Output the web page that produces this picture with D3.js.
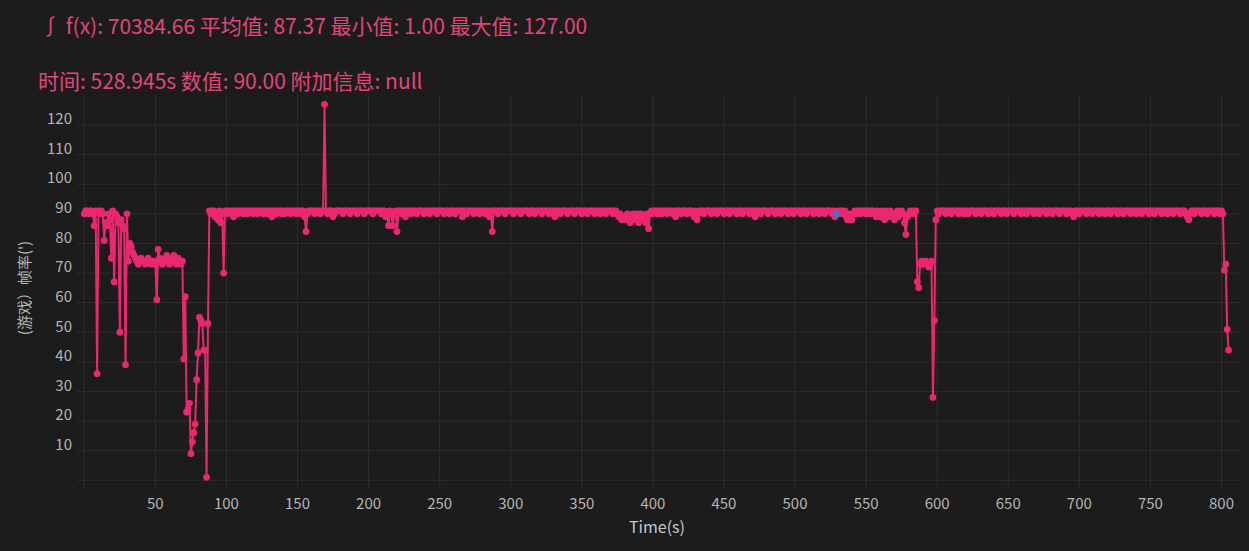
<!DOCTYPE html>
<html><head><meta charset="utf-8">
<script src="https://cdn.jsdelivr.net/npm/d3@7"></script>
<style>html,body{margin:0;padding:0;background:#1c1c1c;} svg{display:block}</style>
</head><body><svg id="c" width="1249" height="551"></svg>
<script>
// sampling interval of the frame-rate trace (seconds)
const sampleInterval = 1;
// (游戏) 帧率 per sample
const fpsValues = [
90,91,91,90,91,91,90,86,91,36,91,90,91,90,81,87,86,90,88,75,
91,67,90,89,87,50,88,86,85,39,90,74,80,79,77,76,75,74,73,74,
75,74,74,73,74,75,74,73,74,74,73,61,78,75,74,73,74,75,76,74,
73,74,75,76,74,73,75,74,73,74,41,62,23,24,26,9,13,16,19,34,
43,55,54,53,44,44,1,53,91,90,91,91,89,90,88,91,87,90,70,91,
90,91,91,90,91,89,91,91,90,91,91,91,90,91,91,90,91,91,91,90,
91,91,90,91,91,91,90,91,91,90,91,91,89,91,91,90,91,91,91,90,
91,90,91,91,91,90,91,91,91,90,91,91,90,91,91,89,84,90,91,91,
91,91,90,91,91,91,90,91,91,127,91,90,91,91,91,89,90,91,91,91,
91,91,90,91,91,91,91,90,91,91,91,91,90,91,91,91,91,90,91,91,
91,91,91,90,91,91,91,91,91,90,91,91,89,90,86,91,90,86,90,91,
84,91,91,90,91,91,89,91,91,91,90,91,91,91,90,91,91,91,91,90,
91,91,91,90,91,91,91,91,90,91,91,91,91,90,91,91,91,90,91,91,
91,90,91,91,91,91,89,91,91,90,91,91,91,91,90,91,91,91,90,91,
91,91,90,91,91,89,91,84,91,91,91,90,91,91,91,91,90,91,91,91,
91,91,90,91,91,91,91,90,91,91,91,91,91,90,91,91,91,90,91,91,
91,91,90,91,91,91,91,90,91,91,91,89,91,91,91,90,91,91,91,91,
90,91,91,91,91,90,91,91,91,91,90,91,91,91,90,91,91,91,91,90,
91,91,91,90,91,91,91,90,91,91,91,91,90,91,91,90,89,90,88,89,
88,89,90,88,87,89,90,88,89,90,87,88,90,89,88,87,90,85,90,91,
90,91,91,90,91,91,90,91,91,91,90,91,91,91,90,91,89,91,91,91,
90,91,91,91,90,91,91,91,90,89,91,88,90,91,91,91,90,91,91,91,
91,90,91,91,91,90,91,91,91,91,90,91,91,91,90,91,91,91,91,90,
91,91,91,90,91,91,91,91,90,91,91,91,89,91,91,91,90,91,91,91,
91,90,91,91,91,91,90,91,91,91,90,91,91,91,91,90,91,91,91,90,
91,91,91,91,90,91,91,91,90,91,91,91,91,90,91,91,91,90,91,91,
91,90,91,91,91,91,90,91,89,90,91,90,91,91,90,91,89,88,90,89,
88,90,91,90,91,91,90,91,91,91,90,91,91,90,91,91,90,89,91,90,
89,91,90,88,91,90,89,91,90,89,88,90,91,89,90,91,90,87,83,89,
90,91,90,91,90,91,67,65,73,74,73,74,74,73,72,73,74,28,54,88,
91,90,91,91,91,91,90,91,91,91,90,91,91,91,91,90,91,91,91,90,
91,91,90,91,91,91,91,90,91,91,91,90,91,91,91,91,90,91,91,91,
90,91,91,91,91,90,91,91,91,90,91,91,91,91,90,91,91,91,91,90,
91,91,91,90,91,91,91,91,90,91,91,91,90,91,91,91,91,90,91,91,
91,90,91,91,91,91,90,91,91,91,91,90,91,91,91,90,89,91,91,91,
90,91,91,91,91,90,91,91,91,90,91,91,91,91,90,91,91,91,90,91,
91,91,90,91,91,91,91,90,91,91,91,90,91,91,91,91,90,91,91,91,
90,91,91,91,90,91,91,91,91,90,91,91,91,90,91,91,91,91,90,91,
91,91,90,91,91,91,90,91,91,91,91,90,91,91,91,90,89,88,90,91,
91,90,91,91,91,91,90,91,91,91,90,91,91,91,91,90,91,91,91,90,
91,90,71,73,51,44
];
const xTickValues = [50,100,150,200,250,300,350,400,450,500,550,600,650,700,750,800];
const xGridValues = [0,50,100,150,200,250,300,350,400,450,500,550,600,650,700,750,800];
const yTickValues = [10,20,30,40,50,60,70,80,90,100,110,120];
const yGridValues = [0,10,20,30,40,50,60,70,80,90,100,110,120];
const highlightTime = 528.945;
const highlightValue = 90;
const statsLine = "∫ f(x): 70384.66 平均值: 87.37 最小值: 1.00 最大值: 127.00";
const hoverLine = "时间: 528.945s 数值: 90.00 附加信息: null";
const yTitle = "(游戏）帧率(')";
const xTitle = "Time(s)";

const data = fpsValues.map((v, i) => ({t: i * sampleInterval, v}));

const svg = d3.select("#c");
const font = "'Noto Sans CJK SC','Noto Sans',sans-serif";
svg.append("rect").attr("width",1249).attr("height",551).attr("fill","#1c1c1c");

const x = d3.scaleLinear().domain([0,800]).range([84.3,1221.5]);
const y = d3.scaleLinear().domain([0,130]).range([480.3,95.4]);
const plotLeft = 77, plotRight = 1240, plotTop = 95, plotBottom = 488;

const grid = svg.append("g");
grid.selectAll("line.h").data(yGridValues).join("line").attr("class","h")
  .attr("x1",plotLeft).attr("x2",plotRight)
  .attr("y1",d=>y(d)).attr("y2",d=>y(d))
  .attr("stroke","#2e2e2e").attr("stroke-width",1);
grid.selectAll("line.v").data(xGridValues).join("line").attr("class","v")
  .attr("x1",d=>x(d)).attr("x2",d=>x(d))
  .attr("y1",plotTop).attr("y2",plotBottom)
  .attr("stroke","#2e2e2e").attr("stroke-width",1);

svg.append("g").selectAll("text").data(yTickValues).join("text")
  .attr("x",72).attr("y",d=>y(d)).attr("dy","-0.05em")
  .attr("text-anchor","end").attr("fill","#b5b5b5")
  .attr("font-family",font).attr("font-size",15).text(d=>d);

svg.append("g").selectAll("text").data(xTickValues).join("text")
  .attr("x",d=>x(d)).attr("y",509)
  .attr("text-anchor","middle").attr("fill","#b5b5b5")
  .attr("font-family",font).attr("font-size",15).text(d=>d);

svg.append("text").attr("x",657).attr("y",533).attr("text-anchor","middle")
  .attr("fill","#c8c8c8").attr("font-family",font).attr("font-size",16).text(xTitle);

svg.append("text").attr("transform","translate(30,288) rotate(-90)")
  .attr("text-anchor","middle").attr("fill","#b5b5b5")
  .attr("font-family",font).attr("font-size",15).text(yTitle);

const pink = "#ea2870";
const line = d3.line().x(d=>x(d.t)).y(d=>y(d.v));
svg.append("path").datum(data).attr("d",line).attr("fill","none")
  .attr("stroke",pink).attr("stroke-width",2).attr("stroke-linejoin","round");
svg.append("g").selectAll("circle").data(data).join("circle")
  .attr("cx",d=>x(d.t)).attr("cy",d=>y(d.v)).attr("r",3.4).attr("fill",pink);

svg.append("circle").attr("cx",x(highlightTime)).attr("cy",y(highlightValue))
  .attr("r",3.4).attr("fill","#2f7fd8");

svg.append("text").attr("x",40).attr("y",34).attr("fill","#e2457c")
  .attr("font-family",font).attr("font-size",21).text(statsLine);
svg.append("text").attr("x",38).attr("y",89).attr("fill","#e2457c")
  .attr("font-family",font).attr("font-size",21).text(hoverLine);
</script>
</body></html>
